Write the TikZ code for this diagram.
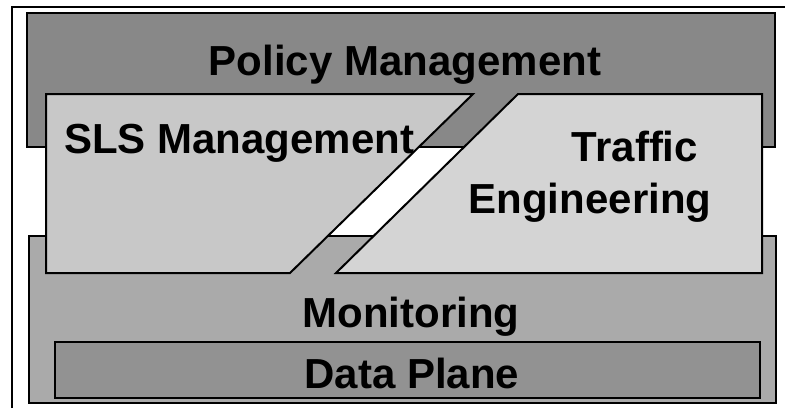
\documentclass[tikz,border=0pt]{standalone}
\usepackage{fontspec}
\setmainfont{Liberation Sans}
\begin{document}
\begin{tikzpicture}[x=1pt,y=-1pt,
  layer/.style={draw=black,line width=2pt},
  lbl/.style={font=\fontsize{42}{48}\selectfont\bfseries,inner sep=0pt},
]
\definecolor{policyc}{HTML}{888888}
\definecolor{slsc}{HTML}{C8C8C8}
\definecolor{tec}{HTML}{D4D4D4}
\definecolor{monc}{HTML}{AAAAAA}
\definecolor{datac}{HTML}{929292}
\useasboundingbox (0,0) rectangle (785,408);
% frame
\draw[line width=2pt] (12,408) -- (12,7) -- (785,7);
% policy
\draw[layer,fill=policyc] (27,13) rectangle (775,147);
% monitoring
\draw[layer,fill=monc] (29,236) rectangle (776,403);
% data plane
\draw[layer,fill=datac] (55,342) rectangle (760,398);
% SLS polygon
\draw[layer,fill=slsc,line join=miter] (46,94) -- (473,94) -- (290,273) -- (46,273) -- cycle;
% TE polygon
\draw[layer,fill=tec,line join=miter] (518,94) -- (762,94) -- (762,273) -- (336,273) -- cycle;
% labels
\node[lbl,anchor=base] (pol) at (405,75) {Policy Management};
\node[lbl,anchor=base west] (sls) at (64,153) {SLS Management};
\node[lbl,anchor=base] (te1) at (635,161) {Traffic};
\node[lbl,anchor=base] (te2) at (590,213) {Engineering};
\node[lbl,anchor=base] (mon) at (411,327) {Monitoring};
\node[lbl,anchor=base] (dp) at (412,388) {Data Plane};
\end{tikzpicture}
\end{document}
